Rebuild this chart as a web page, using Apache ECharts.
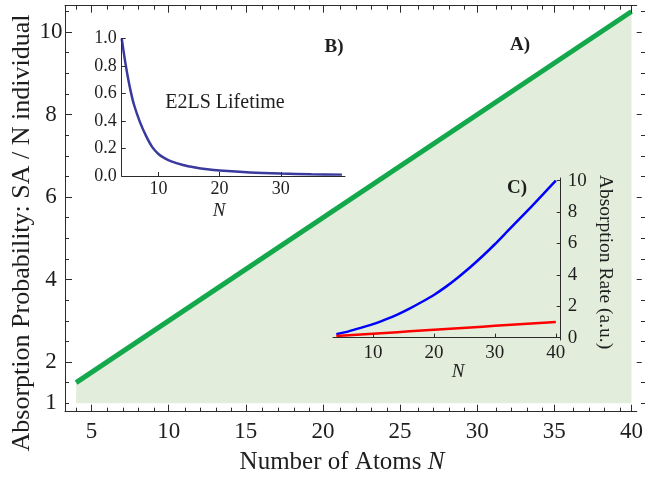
<!DOCTYPE html>
<html>
<head>
<meta charset="utf-8">
<script src="https://cdn.jsdelivr.net/npm/echarts@6/dist/echarts.min.js"></script>
<style>
  html, body { margin: 0; padding: 0; background: #ffffff; }
  #chart { width: 646px; height: 478px; }
</style>
</head>
<body>
<div id="chart"></div>
<script>
// A) absorption probability of the collective state relative to N individual atoms
const atomsN = [4, 40];
const absorptionRatio = [1.5, 10.5];

// B) E2LS lifetime (normalised)
const lifeN = [4, 4.5, 5, 5.5, 6, 7, 8, 9, 10, 11, 12, 14, 16, 18, 20, 25, 30, 35, 40];
const lifetime = [1.0, 0.85, 0.72, 0.61, 0.52, 0.39, 0.29, 0.21, 0.16, 0.13, 0.108, 0.08, 0.062, 0.049, 0.04, 0.026, 0.018, 0.013, 0.01];

// C) absorption rates (arbitrary units)
const rateN = [4, 6, 8, 10, 12, 14, 16, 18, 20, 22, 24, 26, 28, 30, 32, 34, 36, 38, 40];
const rateCollective = [0.22, 0.4, 0.62, 0.86, 1.15, 1.47, 1.85, 2.27, 2.72, 3.25, 3.85, 4.5, 5.2, 5.95, 6.75, 7.55, 8.35, 9.17, 10.0];
const rateIndividual = [0.1, 0.15, 0.2, 0.25, 0.3, 0.35, 0.4, 0.45, 0.5, 0.55, 0.6, 0.65, 0.7, 0.75, 0.8, 0.85, 0.9, 0.95, 1.0];

// tick positions
const mainXMajor = [5, 10, 15, 20, 25, 30, 35, 40];
const mainXMinor = [4, 6, 7, 8, 9, 11, 12, 13, 14, 16, 17, 18, 19, 21, 22, 23, 24, 26, 27, 28, 29, 31, 32, 33, 34, 36, 37, 38, 39];
const mainYMajor = [2, 4, 6, 8, 10];
const mainYMinor = [1, 1.5, 2.5, 3, 3.5, 4.5, 5, 5.5, 6.5, 7, 7.5, 8.5, 9, 9.5, 10.5];
const mainYLabels = [1, 2, 4, 6, 8, 10];
const insetBX = [10, 20, 30];
const insetBY = [0, 0.2, 0.4, 0.6, 0.8, 1.0];
const insetCX = [10, 20, 30, 40];
const insetCY = [0, 2, 4, 6, 8, 10];

const FONT = 'Liberation Serif';
const INK = '#1e1e1e';
const AX = '#2b2b2b';

function pairs(xs, ys) { return xs.map((x, i) => [x, ys[i]]); }

const mainRect = { left: 65, top: 5.7, width: 576, height: 406 };
const mainX = { min: 3.28, max: 40.34 };
const mainY = { min: 0.795, max: 10.64 };

function frameAxis(extra) {
  return Object.assign({
    type: 'value',
    z: 5,
    splitLine: { show: false },
    axisLine: { show: false, lineStyle: { color: AX, width: 1 } },
    axisTick: { show: false },
    axisLabel: { show: false }
  }, extra);
}

const chart = echarts.init(document.getElementById('chart'), null, { renderer: 'canvas' });

const option = {
  animation: false,
  grid: [
    Object.assign({}, mainRect),
    { left: 121.7, top: 38.5, width: 223.3, height: 137.5 },
    { left: 333, top: 178, width: 227.7, height: 162 },
    Object.assign({}, mainRect)
  ],
  xAxis: [
    frameAxis({ gridIndex: 0, position: 'bottom', min: mainX.min, max: mainX.max,
      axisLine: { show: true, lineStyle: { color: AX, width: 1 } },
      axisTick: { show: true, inside: true, length: 7, customValues: mainXMajor, lineStyle: { color: AX } },
      axisLabel: { show: true, customValues: mainXMajor, margin: 9, fontFamily: FONT, fontSize: 23, color: INK } }),
    frameAxis({ gridIndex: 0, position: 'top', min: mainX.min, max: mainX.max,
      axisLine: { show: true, lineStyle: { color: AX, width: 1 } },
      axisTick: { show: true, inside: true, length: 7, customValues: mainXMajor, lineStyle: { color: AX } } }),
    frameAxis({ gridIndex: 1, position: 'bottom', min: 4, max: 40.5,
      axisLine: { show: true, lineStyle: { color: AX, width: 1 } },
      axisTick: { show: true, inside: true, length: 4, customValues: insetBX, lineStyle: { color: AX } },
      axisLabel: { show: true, customValues: insetBX, margin: 4, fontFamily: FONT, fontSize: 18, color: INK } }),
    frameAxis({ gridIndex: 2, position: 'bottom', min: 3.45, max: 40.8,
      axisLine: { show: true, lineStyle: { color: AX, width: 1 } },
      axisTick: { show: true, inside: true, length: 4, customValues: insetCX, lineStyle: { color: AX } },
      axisLabel: { show: true, customValues: insetCX, margin: 4, fontFamily: FONT, fontSize: 19, color: INK } }),
    frameAxis({ gridIndex: 3, position: 'bottom', min: mainX.min, max: mainX.max,
      axisTick: { show: true, inside: true, length: 4, customValues: mainXMinor, lineStyle: { color: AX } } }),
    frameAxis({ gridIndex: 3, position: 'top', min: mainX.min, max: mainX.max,
      axisTick: { show: true, inside: true, length: 4, customValues: mainXMinor, lineStyle: { color: AX } } })
  ],
  yAxis: [
    frameAxis({ gridIndex: 0, position: 'left', min: mainY.min, max: mainY.max,
      axisLine: { show: true, lineStyle: { color: AX, width: 1 } },
      axisTick: { show: true, inside: true, length: 7, customValues: mainYMajor, lineStyle: { color: AX } },
      axisLabel: { show: true, customValues: mainYLabels, margin: 14, align: 'center', fontFamily: FONT, fontSize: 23, color: INK } }),
    frameAxis({ gridIndex: 0, position: 'right', min: mainY.min, max: mainY.max,
      axisTick: { show: true, inside: false, length: 5, customValues: mainYMajor, lineStyle: { color: AX } } }),
    frameAxis({ gridIndex: 1, position: 'left', min: 0, max: 1,
      axisLine: { show: true, lineStyle: { color: AX, width: 1 } },
      axisTick: { show: true, inside: true, length: 4, customValues: insetBY, lineStyle: { color: AX } },
      axisLabel: { show: true, customValues: insetBY, margin: 5, fontFamily: FONT, fontSize: 18, color: INK,
        formatter: v => v.toFixed(1) } }),
    frameAxis({ gridIndex: 2, position: 'right', min: -0.15, max: 10.17,
      axisLine: { show: true, lineStyle: { color: AX, width: 1 } },
      axisTick: { show: true, inside: true, length: 4, customValues: insetCY, lineStyle: { color: AX } },
      axisLabel: { show: true, customValues: insetCY, margin: 7, fontFamily: FONT, fontSize: 19, color: INK } }),
    frameAxis({ gridIndex: 3, position: 'left', min: mainY.min, max: mainY.max,
      axisTick: { show: true, inside: true, length: 4, customValues: mainYMinor, lineStyle: { color: AX } } }),
    frameAxis({ gridIndex: 3, position: 'right', min: mainY.min, max: mainY.max,
      axisTick: { show: true, inside: false, length: 4, customValues: mainYMinor, lineStyle: { color: AX } } })
  ],
  series: [
    {
      name: 'SA / N individual',
      type: 'line',
      xAxisIndex: 0, yAxisIndex: 0,
      data: pairs(atomsN, absorptionRatio),
      showSymbol: false,
      lineStyle: { color: '#13a84b', width: 5, cap: 'butt' },
      areaStyle: { color: '#e2eedb', opacity: 1, origin: 1 },
      z: 1
    },
    {
      name: 'E2LS Lifetime',
      type: 'line',
      xAxisIndex: 2, yAxisIndex: 2,
      data: pairs(lifeN, lifetime),
      smooth: 0.25,
      showSymbol: false,
      lineStyle: { color: '#3a3a9e', width: 2.5 },
      z: 3
    },
    {
      name: 'collective',
      type: 'line',
      xAxisIndex: 3, yAxisIndex: 3,
      data: pairs(rateN, rateCollective),
      smooth: 0.2,
      showSymbol: false,
      lineStyle: { color: '#0000ff', width: 2.5 },
      z: 3
    },
    {
      name: 'individual',
      type: 'line',
      xAxisIndex: 3, yAxisIndex: 3,
      data: pairs(rateN, rateIndividual),
      showSymbol: false,
      lineStyle: { color: '#ff0000', width: 2.5 },
      z: 3
    }
  ],
  graphic: [
    { type: 'text', x: 22, y: 233, rotation: Math.PI / 2, z: 10,
      style: { text: 'Absorption Probability: SA / N individual', fontFamily: FONT, fontSize: 26, fill: INK, align: 'center', verticalAlign: 'middle' } },
    { type: 'text', x: 342, y: 462, z: 10,
      style: { text: '{a|Number of Atoms }{b|N}', align: 'center', verticalAlign: 'middle',
        rich: { a: { fontFamily: FONT, fontSize: 25, fill: INK, color: INK }, b: { fontFamily: FONT, fontSize: 25, fontStyle: 'italic', fill: INK, color: INK } } } },
    { type: 'text', x: 520, y: 45, z: 10,
      style: { text: 'A)', fontFamily: FONT, fontSize: 19, fontWeight: 'bold', fill: INK, align: 'center', verticalAlign: 'middle' } },
    { type: 'text', x: 334, y: 47, z: 10,
      style: { text: 'B)', fontFamily: FONT, fontSize: 19, fontWeight: 'bold', fill: INK, align: 'center', verticalAlign: 'middle' } },
    { type: 'text', x: 517, y: 188, z: 10,
      style: { text: 'C)', fontFamily: FONT, fontSize: 19, fontWeight: 'bold', fill: INK, align: 'center', verticalAlign: 'middle' } },
    { type: 'text', x: 225, y: 103, z: 10,
      style: { text: 'E2LS Lifetime', fontFamily: FONT, fontSize: 20, fill: INK, align: 'center', verticalAlign: 'middle' } },
    { type: 'text', x: 219, y: 211, z: 10,
      style: { text: 'N', fontFamily: FONT, fontSize: 19, fontStyle: 'italic', fill: INK, align: 'center', verticalAlign: 'middle' } },
    { type: 'text', x: 458, y: 372, z: 10,
      style: { text: 'N', fontFamily: FONT, fontSize: 19, fontStyle: 'italic', fill: INK, align: 'center', verticalAlign: 'middle' } },
    { type: 'text', x: 605, y: 262, rotation: -Math.PI / 2, z: 10,
      style: { text: 'Absorption Rate (a.u.)', fontFamily: FONT, fontSize: 19.5, fill: INK, align: 'center', verticalAlign: 'middle' } }
  ]
};

chart.setOption(option);
</script>
</body>
</html>
